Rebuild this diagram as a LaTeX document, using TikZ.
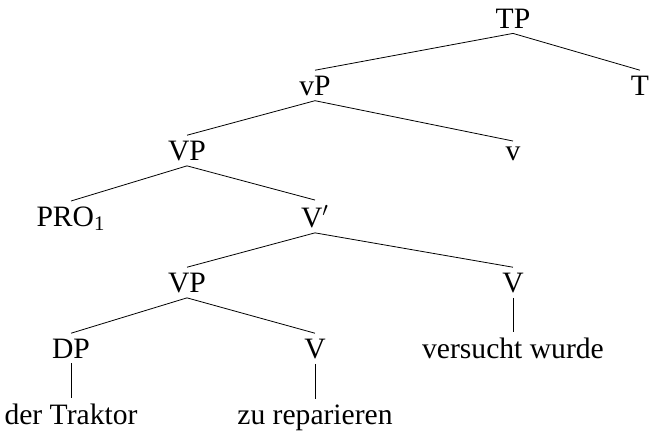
\documentclass[tikz,border=0pt]{standalone}
\usepackage{fontspec}
\setmainfont{Liberation Serif}
\usetikzlibrary{positioning}

\begin{document}
\begin{tikzpicture}[x=0.5pt,y=-0.5pt,font=\fontsize{14.8}{16}\selectfont]
  \tikzstyle{every node}=[anchor=base,inner sep=2.5pt]
  \useasboundingbox (0,0) rectangle (649,435);

    \node (TP)   at (513,28)  {TP};
    \node (vP)   at (315,95)  {vP};
    \node (T)    at (640,95)  {T};
    \node (VP)   at (187,160) {VP};
    \node (v)    at (513,160) {v};
    \node (PRO)  at (71,226)  {PRO\textsubscript{1}};
    \node (Vbar) at (315,227) {V$'$};
    \node (VPb)  at (187,292) {VP};
    \node (Vb)   at (513,292) {V};
    \node (DP)   at (71,358)  {DP};
    \node (Vc)   at (315,358) {V};
    \node (vers) at (513,358) {versucht wurde};
    \node (trak) at (71,424)  {der Traktor};
    \node (rep)  at (315,424) {zu reparieren};

    \path
    (TP.south)   edge (vP.north)
    (TP.south)   edge (T.north)
    (vP.south)   edge (VP.north)
    (vP.south)   edge (v.north)
    (VP.south)   edge (PRO.north)
    (VP.south)   edge (Vbar.north)
    (Vbar.south) edge (VPb.north)
    (Vbar.south) edge (Vb.north)
    (VPb.south)  edge (DP.north)
    (VPb.south)  edge (Vc.north)
    (Vb.south)   edge (vers.north)
    (DP.south)   edge (trak.north)
    (Vc.south)   edge (rep.north)
    ;

\end{tikzpicture}
\end{document}
